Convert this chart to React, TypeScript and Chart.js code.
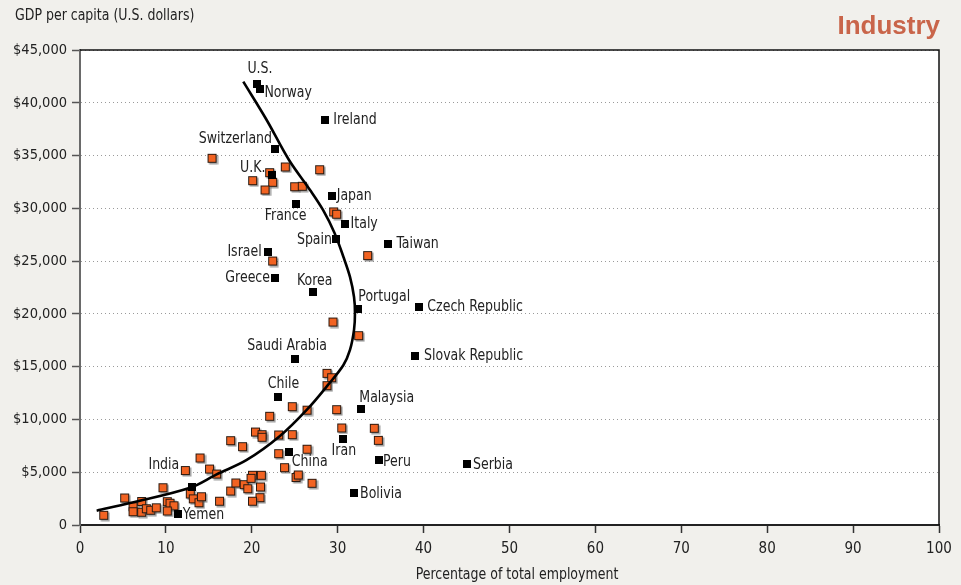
import React, { useEffect, useRef } from 'react';
import { Chart, registerables } from 'chart.js';

Chart.register(...registerables);

// ---- Data -------------------------------------------------------------
const labeledCountries = [
  'U.S.', 'Norway', 'Ireland', 'Switzerland', 'U.K.', 'Japan', 'France', 'Italy',
  'Spain', 'Taiwan', 'Israel', 'Greece', 'Korea', 'Portugal', 'Czech Republic',
  'Saudi Arabia', 'Slovak Republic', 'Chile', 'Malaysia', 'Iran', 'China', 'Peru',
  'Serbia', 'Bolivia', 'India', 'Yemen',
];
const labeledShare = [
  20.6, 21.0, 28.55, 22.7, 22.4, 29.3, 25.1, 30.8,
  29.8, 35.9, 21.85, 22.7, 27.1, 32.4, 39.5,
  25.05, 39.0, 23.1, 32.75, 30.6, 24.3, 34.8,
  45.05, 31.9, 13.07, 11.37,
];
const labeledGdp = [
  41800, 41300, 38400, 35600, 33150, 31200, 30400, 28500,
  27100, 26600, 25850, 23400, 22050, 20450, 20700,
  15750, 16000, 12130, 11000, 8120, 6950, 6160,
  5750, 3030, 3600, 1070,
];

const otherShare = [
  2.76, 5.2, 6.17, 6.17, 7.18, 7.18, 7.72, 8.23, 8.88, 9.66,
  10.16, 10.48, 10.94, 10.16, 12.26, 13.97, 15.08, 15.91, 12.84, 13.19,
  13.85, 14.14, 16.24, 17.54, 18.14, 19.12, 19.53, 20.08, 19.91, 21.11,
  21.01, 20.95, 20.08, 17.54, 18.92, 20.43, 21.19, 21.19, 22.08, 23.13,
  24.71, 23.13, 23.81, 25.15, 25.41, 27.01, 26.43, 24.71, 26.43, 28.75,
  29.3, 28.75, 29.88, 30.47, 34.26, 34.73, 29.45, 32.44, 33.49, 29.53,
  29.88, 22.43, 15.37, 22.08, 23.9, 27.9, 20.1, 22.43, 21.54, 24.99,
  25.88,
];
const otherGdp = [
  920, 2560, 1730, 1260, 2230, 1210, 1540, 1400, 1630, 3530,
  2210, 2060, 1820, 1330, 5160, 6350, 5300, 4830, 2940, 2480,
  2110, 2680, 2250, 3220, 3980, 3820, 3440, 4710, 4420, 4710,
  3600, 2590, 2250, 7990, 7420, 8810, 8560, 8310, 10300, 8530,
  8560, 6760, 5430, 4500, 4740, 3950, 7180, 11210, 10880, 14370,
  13950, 13200, 10930, 9190, 9160, 8020, 19230, 17940, 25520, 29660,
  29440, 25010, 34740, 33380, 33920, 33660, 32620, 32470, 31740, 32050,
  32090,
];

const trendShare = [
  1.94, 5.82, 12.81, 15.91, 19.41, 23.28, 26.39, 28.87, 30.67, 31.43, 31.9,
  32.01, 31.9, 31.43, 30.67, 29.63, 28.29, 26.78, 24.33, 21.73, 19.01,
];
const trendGdp = [
  1355, 2085, 3530, 4800, 6160, 8430, 10900, 13270, 15160, 16580, 18480,
  20090, 21600, 23500, 25390, 27670, 29850, 31740, 34580, 38370, 42000,
];

const xMin = 0, xMax = 100, xStep = 10;
const yMin = 0, yMax = 45000, yStep = 5000;

const yAxisTitle = 'GDP per capita (U.S. dollars)';
const xAxisTitle = 'Percentage of total employment';
const panelTitle = 'Industry';

// ---- Label placement (style, not data) ------------------------------
const labelPlacement: Record<string, [CanvasTextAlign, number, number]> = {
  'U.S.': ['center', 3, -15],
  'Norway': ['left', 4, 4],
  'Ireland': ['left', 8, 0],
  'Switzerland': ['right', -3, -10],
  'U.K.': ['right', -7, -7],
  'Japan': ['left', 5, 0],
  'France': ['center', -10, 12],
  'Italy': ['left', 6, 0],
  'Spain': ['right', -4, 1],
  'Taiwan': ['left', 8, 0],
  'Israel': ['right', -6, 0],
  'Greece': ['right', -5, 0],
  'Korea': ['center', 2, -11],
  'Portugal': ['left', 0, -12],
  'Czech Republic': ['left', 8, 0],
  'Saudi Arabia': ['center', -8, -13],
  'Slovak Republic': ['left', 9, 0],
  'Chile': ['center', 5, -13],
  'Malaysia': ['left', -2, -11],
  'Iran': ['center', 1, 12],
  'China': ['left', 3, 10],
  'Peru': ['left', 4, 2],
  'Serbia': ['left', 6, 1],
  'Bolivia': ['left', 6, 1],
  'India': ['right', -13, -22],
  'Yemen': ['left', 5, 1],
};

const BG = '#f1f0ec';
const NARROW = '"DejaVu Sans Condensed", "Liberation Sans Narrow", "Arial Narrow", sans-serif';
const TEXT = '#222222';
const SQUEEZE = 0.9;

function makeOrangeMarker(): HTMLCanvasElement {
  const c = document.createElement('canvas');
  c.width = 13; c.height = 13;
  const g = c.getContext('2d')!;
  g.fillStyle = 'rgba(80,80,80,0.55)';
  g.fillRect(3.5, 3.5, 9, 9);
  g.fillStyle = '#2b1a10';
  g.fillRect(2, 2, 9, 9);
  g.fillStyle = '#f26322';
  g.fillRect(3, 3, 7, 7);
  return c;
}

function makeBlackMarker(): HTMLCanvasElement {
  const c = document.createElement('canvas');
  c.width = 8; c.height = 8;
  const g = c.getContext('2d')!;
  g.fillStyle = '#000';
  g.fillRect(0, 0, 8, 8);
  return c;
}

function squeezedText(ctx: CanvasRenderingContext2D, text: string, x: number, y: number) {
  ctx.save();
  ctx.translate(x, y);
  ctx.scale(SQUEEZE, 1);
  ctx.fillText(text, 0, 0);
  ctx.restore();
}

const decorPlugin = {
  id: 'decor',
  beforeDraw(chart: any) {
    const { ctx, chartArea: a, width, height } = chart;
    ctx.save();
    ctx.fillStyle = BG;
    ctx.fillRect(0, 0, width, height);
    ctx.fillStyle = '#ffffff';
    ctx.fillRect(a.left, a.top, a.right - a.left, a.bottom - a.top);
    ctx.restore();
  },
  afterDraw(chart: any) {
    const { ctx, chartArea: a } = chart;
    const xs = chart.scales.x;
    const ys = chart.scales.y;
    ctx.save();
    // frame top and right
    ctx.strokeStyle = '#111';
    ctx.lineWidth = 1.5;
    ctx.beginPath();
    ctx.moveTo(a.left, a.top);
    ctx.lineTo(a.right, a.top);
    ctx.lineTo(a.right, a.bottom);
    ctx.stroke();

    // titles
    ctx.fillStyle = TEXT;
    ctx.font = `15.5px ${NARROW}`;
    ctx.textAlign = 'left';
    ctx.textBaseline = 'middle';
    squeezedText(ctx, yAxisTitle, 15, 16);
    ctx.textAlign = 'center';
    squeezedText(ctx, xAxisTitle, 517, 575);

    ctx.fillStyle = '#c9654a';
    ctx.font = 'bold 26px "Liberation Sans", Arial, sans-serif';
    ctx.textAlign = 'right';
    ctx.fillText(panelTitle, 940, 27);

    // country labels
    ctx.fillStyle = TEXT;
    ctx.font = `15.5px ${NARROW}`;
    ctx.textBaseline = 'middle';
    labeledCountries.forEach((name, i) => {
      const p = labelPlacement[name] || ['left', 6, 0];
      const px = xs.getPixelForValue(labeledShare[i]);
      const py = ys.getPixelForValue(labeledGdp[i]);
      ctx.textAlign = p[0];
      squeezedText(ctx, name, px + p[1], py + p[2]);
    });
    ctx.restore();
  },
};

export default function App() {
  const ref = useRef<HTMLCanvasElement | null>(null);

  useEffect(() => {
    if (!ref.current) return;
    const orange = makeOrangeMarker();
    const black = makeBlackMarker();
    const chart = new Chart(ref.current, {
      type: 'scatter',
      data: {
        datasets: [
          {
            label: 'Labeled',
            data: labeledShare.map((x, i) => ({ x, y: labeledGdp[i] })),
            pointStyle: black as any,
            pointRadius: 4,
            order: 0,
          },
          {
            label: 'Trend',
            type: 'line' as any,
            data: trendShare.map((x, i) => ({ x, y: trendGdp[i] })),
            showLine: true,
            borderColor: '#000',
            borderWidth: 2.6,
            pointRadius: 0,
            tension: 0.35,
            fill: false,
            order: 1,
          },
          {
            label: 'Other',
            data: otherShare.map((x, i) => ({ x, y: otherGdp[i] })),
            pointStyle: orange as any,
            pointRadius: 5,
            order: 2,
          },
        ],
      },
      options: {
        animation: false,
        responsive: false,
        maintainAspectRatio: false,
        devicePixelRatio: 1,
        layout: { padding: { top: 50, right: 22, left: 0, bottom: 0 } },
        plugins: {
          legend: { display: false },
          tooltip: { enabled: false },
          title: { display: false },
        },
        scales: {
          x: {
            type: 'linear',
            min: xMin,
            max: xMax,
            afterFit: (s: any) => { s.height = 60; },
            ticks: {
              stepSize: xStep,
              color: TEXT,
              font: { family: NARROW, size: 15 },
              padding: 7,
              maxRotation: 0,
            },
            grid: {
              drawOnChartArea: false,
              drawTicks: true,
              tickLength: 8,
              tickColor: '#333',
              tickWidth: 1.5,
              color: '#333',
            },
            border: { display: true, color: '#222', width: 2 },
          },
          y: {
            type: 'linear',
            min: yMin,
            max: yMax,
            afterFit: (s: any) => { s.width = 80; },
            ticks: {
              stepSize: yStep,
              color: TEXT,
              font: { family: NARROW, size: 14.5 },
              padding: 5,
              callback: (v: any) => (Number(v) === 0 ? '0' : '$' + Number(v).toLocaleString('en-US')),
            },
            grid: {
              drawOnChartArea: true,
              drawTicks: true,
              tickLength: 8,
              tickColor: '#555',
              tickWidth: 1.5,
              color: '#9a9a9a',
              lineWidth: 1,
            },
            border: { display: true, color: '#6a6a6a', width: 2, dash: [1, 3] },
          },
        },
      },
      plugins: [decorPlugin],
    });
    return () => chart.destroy();
  }, []);

  return (
    <div style={{ position: 'fixed', left: 0, top: 0, width: 961, height: 585, background: BG }}>
      <canvas ref={ref} width={961} height={585} style={{ display: 'block', width: 961, height: 585 }} />
    </div>
  );
}
